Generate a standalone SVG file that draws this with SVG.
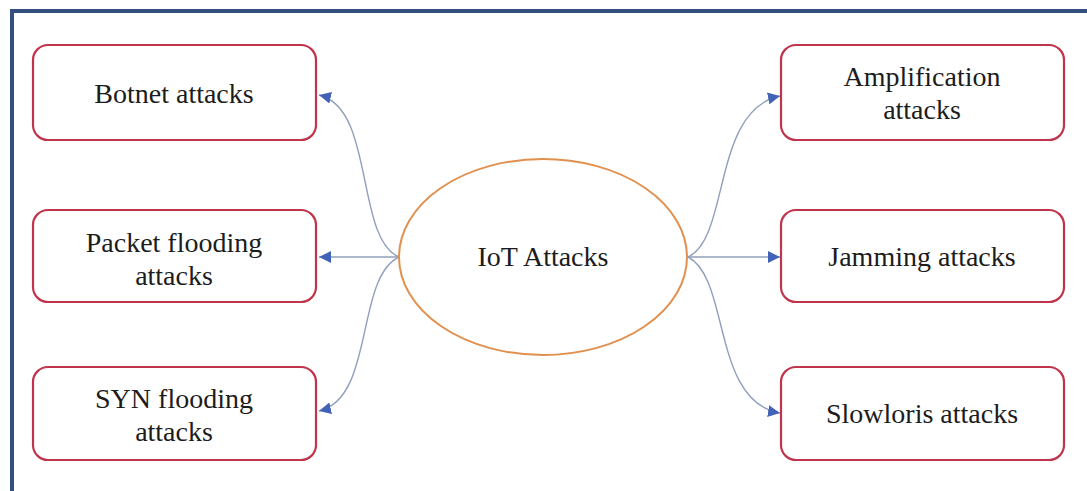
<svg xmlns="http://www.w3.org/2000/svg" width="1087" height="491" viewBox="0 0 1087 491">
  <style>
    .box { fill: #ffffff; stroke: #c1354c; stroke-width: 2.2; }
    .hub { fill: #ffffff; stroke: #e0904f; stroke-width: 2; }
    .lbl { font-family: "Liberation Serif", "Times New Roman", serif; font-size: 28px; fill: #1c1c1c; text-anchor: middle; }
    .edge { fill: none; stroke: #8f9fbd; stroke-width: 1.4; }
    .frame { fill: none; stroke: #34507f; stroke-width: 4; }
  </style>
  <defs>
    <marker id="arrow" viewBox="0 0 10 10" refX="10" refY="5" markerWidth="12" markerHeight="12" markerUnits="userSpaceOnUse" orient="auto">
      <path d="M0,0 L10,5 L0,10 Z" fill="#4262b8"/>
    </marker>
  </defs>

  <rect width="1087" height="491" fill="#ffffff"/>
  <!-- outer frame: top and left edges -->
  <path class="frame" d="M12,491 L12,11 L1087,11"/>

  <g id="connectors">
    <path class="edge" marker-end="url(#arrow)" d="M399,257 C355,238 375,108 319,95"/>
    <path class="edge" marker-end="url(#arrow)" d="M399,257 L319,257"/>
    <path class="edge" marker-end="url(#arrow)" d="M399,257 C355,278 375,398 319,411"/>
    <path class="edge" marker-end="url(#arrow)" d="M688,257 C730,238 712,110 780,96"/>
    <path class="edge" marker-end="url(#arrow)" d="M688,257 L780,257"/>
    <path class="edge" marker-end="url(#arrow)" d="M688,257 C730,278 712,402 780,413"/>
  </g>

  <g id="hub">
    <ellipse class="hub" cx="543" cy="257" rx="144" ry="98"/>
    <text class="lbl" x="543" y="266">IoT Attacks</text>
  </g>

  <g id="botnet">
    <rect class="box" x="33" y="45" width="283" height="95" rx="15"/>
    <text class="lbl" x="174" y="103">Botnet attacks</text>
  </g>

  <g id="packet-flooding">
    <rect class="box" x="33" y="210" width="283" height="92" rx="15"/>
    <text class="lbl" x="174" y="252">Packet flooding</text>
    <text class="lbl" x="174" y="285">attacks</text>
  </g>

  <g id="syn-flooding">
    <rect class="box" x="33" y="367" width="283" height="93" rx="15"/>
    <text class="lbl" x="174" y="408">SYN flooding</text>
    <text class="lbl" x="174" y="441">attacks</text>
  </g>

  <g id="amplification">
    <rect class="box" x="781" y="45" width="283" height="95" rx="15"/>
    <text class="lbl" x="922" y="86">Amplification</text>
    <text class="lbl" x="922" y="119">attacks</text>
  </g>

  <g id="jamming">
    <rect class="box" x="781" y="210" width="283" height="92" rx="15"/>
    <text class="lbl" x="922" y="266">Jamming attacks</text>
  </g>

  <g id="slowloris">
    <rect class="box" x="781" y="367" width="283" height="93" rx="15"/>
    <text class="lbl" x="922" y="423">Slowloris attacks</text>
  </g>
</svg>
